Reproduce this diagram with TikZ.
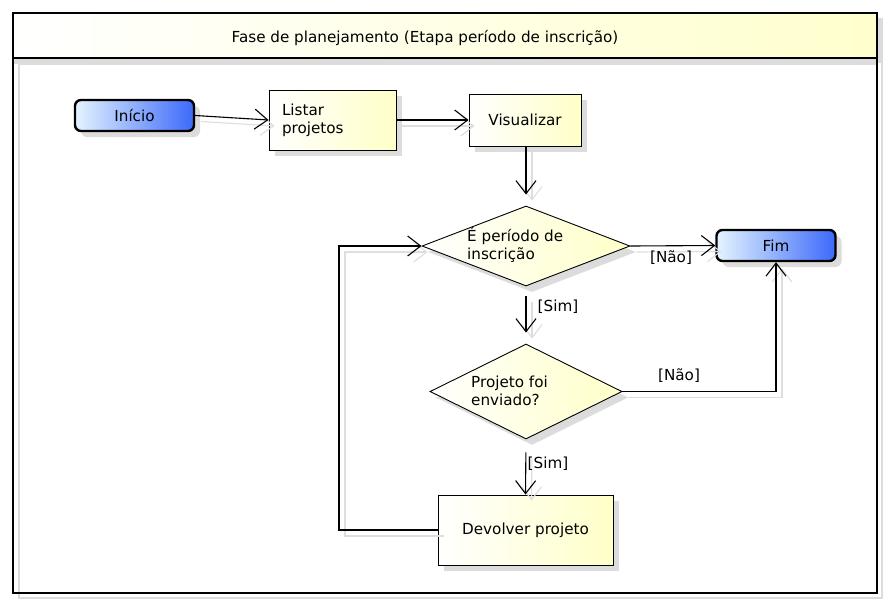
\documentclass[tikz,border=0pt]{standalone}
\usepackage{fontspec}
\setmainfont{DejaVu Sans}
\usetikzlibrary{arrows.meta,shapes.geometric,shadows,positioning}
\definecolor{ylw}{RGB}{255,255,200}
\definecolor{hdr}{RGB}{255,255,205}
\definecolor{bluL}{RGB}{228,244,255}
\definecolor{bluD}{RGB}{60,105,250}
\definecolor{shd}{RGB}{220,220,220}
\tikzset{
  every node/.style={font=\fontsize{15.2}{18}\selectfont},
  nshadow/.style={drop shadow={shadow xshift=6pt,shadow yshift=-6pt,fill=shd,opacity=1}},
  actbox/.style={draw=black, line width=0.9pt, left color=white, right color=ylw, nshadow, inner sep=0pt},
  termbox/.style={draw=black, line width=2.4pt, rounded corners=6pt, left color=bluL, right color=bluD, nshadow, minimum width=119pt, minimum height=31pt, inner sep=0pt},
  decbox/.style={diamond, draw=black, line width=0.9pt, left color=white, right color=ylw, nshadow, inner sep=0pt},
  dectext/.style={align=left, inner sep=0pt, anchor=west},
  conn/.style={line width=1.1pt, -{Straight Barb[length=13pt,width=20pt,line width=1.1pt]},
    preaction={draw=black!13, line width=1.1pt, -{Straight Barb[length=13pt,width=20pt,line width=1.1pt]}, transform canvas={shift={(6pt,-6pt)}}}},
  lbl/.style={inner sep=1pt}
}
\begin{document}
\begin{tikzpicture}[x=1pt,y=-1pt]
\useasboundingbox (0,0) rectangle (890,606);
% frame shadow
\draw[shd, line width=2pt] (19,19) rectangle (882,598);
\fill[shd] (19,19) rectangle (882,63);
% frame
\fill[white] (13,13) rectangle (877,593);
\shade[left color=white, right color=hdr] (13,13) rectangle (877,58);
\fill[shd] (14,59) rectangle (876,64);
\fill[white] (19,64) rectangle (876,592);
\draw[shd, line width=1.5pt] (19,64) -- (19,592);
\draw[shd, line width=1.5pt] (19,64) -- (876,64);
\draw[black, line width=2.5pt] (13,13) rectangle (877,593);
\draw[black, line width=2.5pt] (13,58) -- (877,58);
\node (title) at (425,38) {Fase de planejamento (Etapa período de inscrição)};

% nodes
\node[termbox] (ini) at (134.5,115.5) {Início};
\node[actbox, minimum width=127pt, minimum height=60pt, text width=101pt, align=left] (lst) at (332.5,120) {Listar\\projetos};
\node[actbox, minimum width=112pt, minimum height=52pt] (vis) at (525,120) {Visualizar};
\node[decbox, minimum width=208pt, minimum height=80pt, aspect=2.6] (d1) at (526,246) {};
\node[dectext] (d1t) at (467,245) {É período de\\inscrição};
\node[termbox] (fim) at (776,245.5) {Fim};
\node[decbox, minimum width=192pt, minimum height=95pt, aspect=2.02] (d2) at (526,391.5) {};
\node[dectext] (d2t) at (471,391) {Projeto foi\\enviado?};
\node[actbox, minimum width=175pt, minimum height=70pt] (dev) at (525.5,530) {Devolver projeto};
\coordinate (lp) at (339,530);

% connectors
\draw[conn] (ini.east) -- (lst.west);
\draw[conn] (lst.east) -- (vis.west);
\draw[conn, shorten >=11pt] (vis.south -| d1.north) -- (d1.north);
\draw[conn] (d1.east) -- (fim.west);
\node[lbl] (n1) at (671,258) {[Não]};
\draw[conn, shorten <=10pt, shorten >=11pt] (d1.south) -- (d2.north);
\node[lbl] (s1) at (558,307) {[Sim]};
\draw[conn] (d2.east) -| (fim.south);
\node[lbl] (n2) at (679,376) {[Não]};
\draw[conn, shorten <=13pt] (d2.south) -- (dev.north);
\node[lbl] (s2) at (548,464) {[Sim]};
\draw[conn] (dev.west) -- (lp) |- (d1.west);
\end{tikzpicture}
\end{document}
